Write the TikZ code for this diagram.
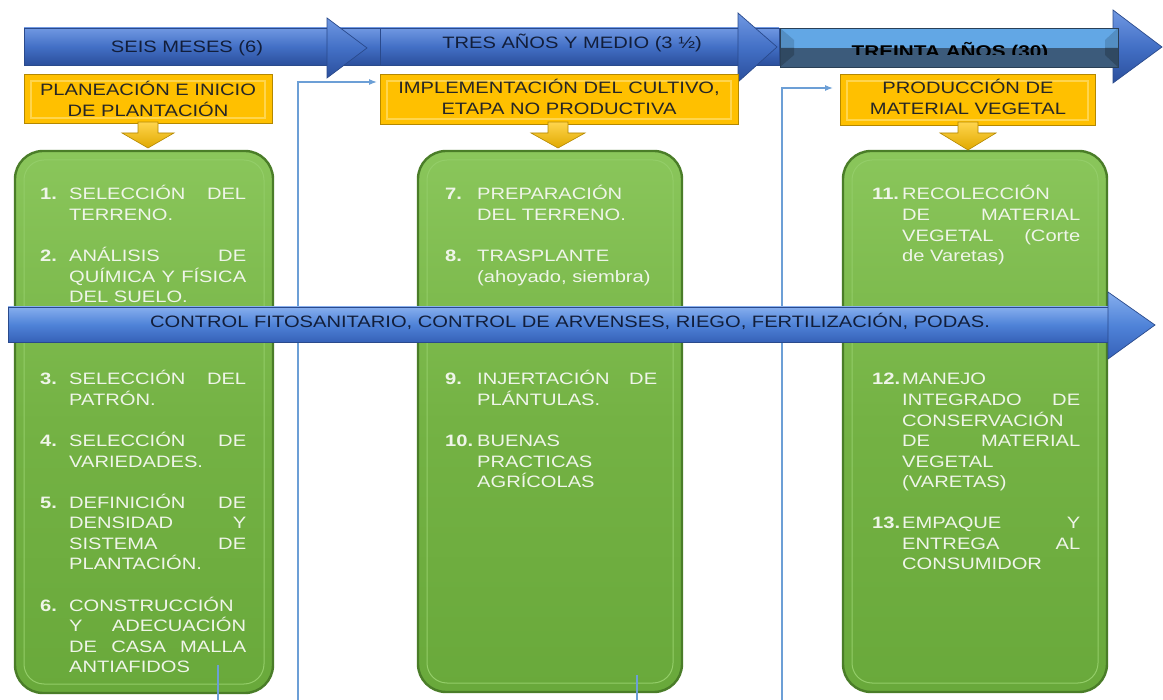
\documentclass[tikz,border=0pt]{standalone}
\usepackage{fontspec}
\setmainfont{Liberation Sans}[FakeStretch=1.22]
\usetikzlibrary{arrows.meta}
\hbadness=10000
\hfuzz=8pt
\definecolor{bltop}{HTML}{7098E2}
\definecolor{blmid}{HTML}{4370C6}
\definecolor{blbot}{HTML}{2B4F9C}
\definecolor{bledge}{HTML}{2A4A8C}
\definecolor{mbtop}{HTML}{86AEEE}
\definecolor{mbmid}{HTML}{4F83D8}
\definecolor{mbbot}{HTML}{3661B8}
\definecolor{navytxt}{HTML}{121E3A}
\definecolor{goldfill}{HTML}{FFC000}
\definecolor{goldedge}{HTML}{B48800}
\definecolor{goldlight}{HTML}{FFD54D}
\definecolor{greentop}{HTML}{8AC65B}
\definecolor{greenmid}{HTML}{74B244}
\definecolor{greenbot}{HTML}{69A93B}
\definecolor{greenedge}{HTML}{4A7D28}
\definecolor{greenline}{HTML}{93CD68}
\definecolor{itemwhite}{HTML}{EFF5E9}
\definecolor{linkblue}{HTML}{6C9FD6}
\definecolor{skyblue}{HTML}{62A7E5}
\definecolor{slateblue}{HTML}{3C5B7B}
\newcommand\dgfont{\fontsize{16.5}{20.55}\selectfont}
\newcommand\dgbig{\fontsize{17}{20}\selectfont}
\begin{document}
\begin{tikzpicture}[x=1pt,y=-1pt,
  bluebody/.style={top color=bltop, bottom color=blbot, middle color=blmid, draw=bledge, line width=0.7pt},
  midbody/.style={top color=mbtop, bottom color=mbbot, middle color=mbmid, draw=bledge, line width=0.7pt},
  goldbox/.style={fill=goldfill, draw=goldedge, line width=1pt},
  goldinner/.style={draw=goldlight, line width=1.2pt},
  golddown/.style={top color=goldlight, bottom color=goldfill!88!black, draw=goldedge, line width=0.6pt},
  greenbox/.style={rounded corners=28pt, top color=greentop, bottom color=greenbot, middle color=greenmid, draw=greenedge, line width=2.4pt},
  greeninner/.style={rounded corners=20pt, draw=greenline, line width=1pt},
  headtxt/.style={anchor=base, inner sep=0pt, font=\dgfont, text=navytxt},
  goldtxt/.style={anchor=base, inner sep=0pt, font=\dgfont, text=black!85},
  itemtext/.style={anchor=base west, inner sep=0pt, font=\dgfont, text=itemwhite},
  numtext/.style={itemtext, font=\dgfont\bfseries},
  link/.style={draw=linkblue, line width=1.2pt, -{Latex[length=8pt,width=6pt]}}
]
\useasboundingbox (0,0) rectangle (1163,700);
\clip (0,0) rectangle (1163,700);
\fill[white] (0,0) rectangle (1163,700);

% ---- top timeline arrows
\path[bluebody] (24,28) rectangle (380,65);
\path[bluebody] (327,18) -- (367,48) -- (327,78) -- cycle;
\path[bluebody] (380,28) rectangle (779,65);
\path[bluebody] (738,13) -- (777,47) -- (738,82) -- cycle;
\path[bluebody] (1113,10) -- (1162,47) -- (1113,83) -- cycle;
\fill[skyblue] (780,28) rectangle (1118,48);
\fill[slateblue] (780,48) rectangle (1118,67);
\fill[skyblue!85!black] (780,28) -- (794,40) -- (794,48) -- (780,48) -- cycle;
\fill[slateblue!80!black] (780,48) -- (794,48) -- (794,55) -- (780,67) -- cycle;
\fill[skyblue!85!black] (1118,28) -- (1105,40) -- (1105,48) -- (1118,48) -- cycle;
\fill[slateblue!80!black] (1118,48) -- (1105,48) -- (1105,55) -- (1118,67) -- cycle;
\draw[slateblue!70!black, line width=0.7pt] (780,28) rectangle (1118,67);

\node[headtxt] (h1) at (187,53) {SEIS MESES (6)};
\node[headtxt] (h2) at (572,49) {TRES AÑOS Y MEDIO (3 ½)};
\begin{scope}
  \clip (780,28) rectangle (1118,54.5);
  \node[anchor=base, inner sep=0pt, font=\dgbig\bfseries, text=black] (h3) at (950,58) {TREINTA AÑOS (30)};
\end{scope}

% ---- gold phase boxes
\path[goldbox] (24,75) rectangle (272,124);
\draw[goldinner] (31,81) rectangle (265,118);
\path[goldbox] (380,75) rectangle (738,125);
\draw[goldinner] (387,81) rectangle (731,119);
\path[goldbox] (840,75) rectangle (1095,126);
\draw[goldinner] (847,81) rectangle (1088,120);

\node[goldtxt] (y1) at (148,96) {\parbox[t]{240pt}{\centering PLANEACIÓN E INICIO\\DE PLANTACIÓN}};
\node[goldtxt] (y2) at (559,94) {\parbox[t]{350pt}{\centering IMPLEMENTACIÓN DEL CULTIVO,\\ETAPA NO PRODUCTIVA}};
\node[goldtxt] (y3) at (968,94) {\parbox[t]{250pt}{\centering PRODUCCIÓN DE\\MATERIAL VEGETAL}};

% ---- green step boxes
\foreach \xa/\xb/\yb in {15/273/693, 418/682/692, 843/1107/692} {
  \path[greenbox] (\xa,151) rectangle (\xb,\yb);
  \draw[greeninner] ({\xa+9},160) rectangle ({\xb-9},{\yb-9});
}

% ---- gold down arrows
\foreach \cx/\hw/\ty in {148/26/148, 558/27/148, 968/28/150} {
  \path[golddown] ({\cx-10},122) -- ({\cx+10},122) -- ({\cx+10},133) -- ({\cx+\hw},133)
     -- (\cx,\ty) -- ({\cx-\hw},133) -- ({\cx-10},133) -- cycle;
}

% ---- column 1
\node[numtext] (n1) at (40,200) {1.};
\node[itemtext] (t1) at (69,200) {\parbox[t]{177pt}{SELECCIÓN~DEL\linebreak TERRENO.}};
\node[numtext] (n2) at (40,{200+20.55*3}) {2.};
\node[itemtext] (t2) at (69,{200+20.55*3}) {\parbox[t]{177pt}{ANÁLISIS~DE\linebreak QUÍMICA~Y~FÍSICA\linebreak DEL~SUELO.}};
\node[numtext] (n3) at (40,{200+20.55*9}) {3.};
\node[itemtext] (t3) at (69,{200+20.55*9}) {\parbox[t]{177pt}{SELECCIÓN~DEL\linebreak PATRÓN.}};
\node[numtext] (n4) at (40,{200+20.55*12}) {4.};
\node[itemtext] (t4) at (69,{200+20.55*12}) {\parbox[t]{177pt}{SELECCIÓN~DE\linebreak VARIEDADES.}};
\node[numtext] (n5) at (40,{200+20.55*15}) {5.};
\node[itemtext] (t5) at (69,{200+20.55*15}) {\parbox[t]{177pt}{DEFINICIÓN~DE\linebreak DENSIDAD~Y\linebreak SISTEMA~DE\linebreak PLANTACIÓN.}};
\node[numtext] (n6) at (40,{200+20.55*20}) {6.};
\node[itemtext] (t6) at (69,{200+20.55*20}) {\parbox[t]{177pt}{CONSTRUCCIÓN\linebreak Y~ADECUACIÓN\linebreak DE~CASA~MALLA\linebreak ANTIAFIDOS}};

% ---- column 2
\node[numtext] (n7) at (445,200) {7.};
\node[itemtext] (t7) at (477,200) {\parbox[t]{180pt}{PREPARACIÓN\linebreak DEL~TERRENO.}};
\node[numtext] (n8) at (445,{200+20.55*3}) {8.};
\node[itemtext] (t8) at (477,{200+20.55*3}) {\parbox[t]{180pt}{TRASPLANTE\linebreak (ahoyado,~siembra)}};
\node[numtext] (n9) at (445,{200+20.55*9}) {9.};
\node[itemtext] (t9) at (477,{200+20.55*9}) {\parbox[t]{180pt}{INJERTACIÓN~DE\linebreak PLÁNTULAS.}};
\node[numtext] (n10) at (445,{200+20.55*12}) {10.};
\node[itemtext] (t10) at (477,{200+20.55*12}) {\parbox[t]{180pt}{BUENAS\linebreak PRACTICAS\linebreak AGRÍCOLAS}};

% ---- column 3
\node[numtext] (n11) at (872,200) {11.};
\node[itemtext] (t11) at (902,200) {\parbox[t]{178pt}{RECOLECCIÓN\linebreak DE~MATERIAL\linebreak VEGETAL~(Corte\linebreak de~Varetas)}};
\node[numtext] (n12) at (872,{200+20.55*9}) {12.};
\node[itemtext] (t12) at (902,{200+20.55*9}) {\parbox[t]{178pt}{MANEJO\linebreak INTEGRADO~DE\linebreak CONSERVACIÓN\linebreak DE~MATERIAL\linebreak VEGETAL\linebreak (VARETAS)}};
\node[numtext] (n13) at (872,{200+20.55*16}) {13.};
\node[itemtext] (t13) at (902,{200+20.55*16}) {\parbox[t]{178pt}{EMPAQUE~Y\linebreak ENTREGA~AL\linebreak CONSUMIDOR}};

% ---- connectors
\coordinate (c1s) at (218,665);
\coordinate (c1a) at (218,740);
\coordinate (c1b) at (298,740);
\coordinate (c1e) at (377,82);
\draw[link] (c1s) -- (c1a) -- (c1b) |- (c1e);
\coordinate (c2s) at (637,675);
\coordinate (c2a) at (637,740);
\coordinate (c2b) at (782,740);
\coordinate (c2e) at (833,88);
\draw[link] (c2s) -- (c2a) -- (c2b) |- (c2e);

% ---- cross-cutting arrow
\path[midbody] (8,307) rectangle (1110,342);
\path[midbody] (1108,292) -- (1155,325) -- (1108,359) -- cycle;
\node[headtxt] (m) at (570,328) {CONTROL FITOSANITARIO, CONTROL DE ARVENSES, RIEGO, FERTILIZACIÓN, PODAS.};
\end{tikzpicture}
\end{document}
